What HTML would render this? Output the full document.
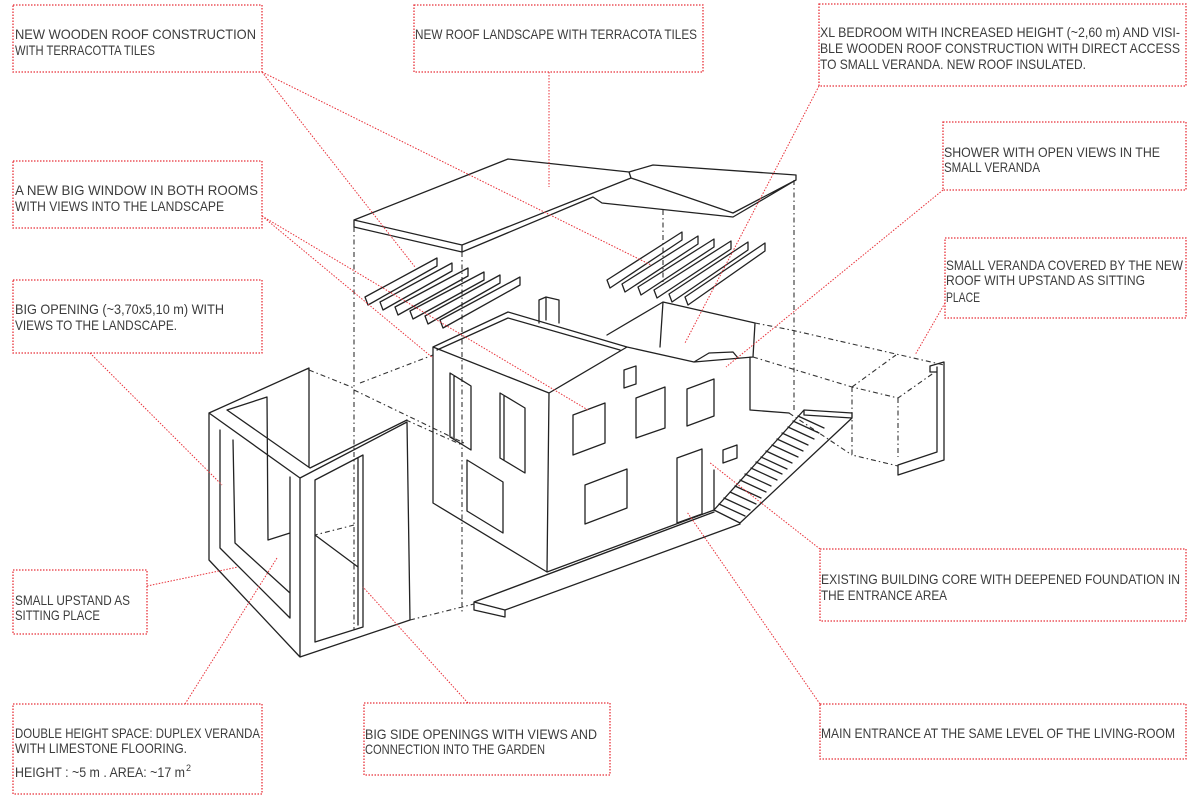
<!DOCTYPE html>
<html><head><meta charset="utf-8"><style>
html,body{margin:0;padding:0;background:#fff;}
svg{display:block;}
text{font-family:"Liberation Sans Narrow","Liberation Sans",sans-serif;font-size:14px;fill:#3c3c3c;}
.b{fill:none;stroke:#e8323a;stroke-width:1.3;stroke-dasharray:1.5 1.5;}
.l{fill:none;stroke:#e8323a;stroke-width:1;stroke-dasharray:1.5 1.5;}
.s{fill:none;stroke:#222;stroke-width:1.3;stroke-linejoin:round;stroke-linecap:round;}
.d{fill:none;stroke:#333;stroke-width:1.1;stroke-dasharray:5 3 1.5 3;}
</style></head><body>
<svg width="1200" height="800" viewBox="0 0 1200 800" xmlns="http://www.w3.org/2000/svg">
<!-- boxes -->
<rect class="b" x="13" y="5" width="249" height="67"/>
<rect class="b" x="414" y="5" width="289" height="67"/>
<rect class="b" x="819" y="4" width="367" height="82"/>
<rect class="b" x="943" y="122" width="243" height="68"/>
<rect class="b" x="13" y="161" width="249" height="67"/>
<rect class="b" x="945" y="238" width="241" height="80"/>
<rect class="b" x="13" y="280" width="249" height="73"/>
<rect class="b" x="820" y="549" width="366" height="72"/>
<rect class="b" x="13" y="570" width="134" height="64"/>
<rect class="b" x="13" y="704" width="249" height="90"/>
<rect class="b" x="364" y="703" width="246" height="72"/>
<rect class="b" x="820" y="704" width="366" height="55"/>
<!-- text -->
<text x="15" y="39" textLength="241" lengthAdjust="spacingAndGlyphs">NEW WOODEN ROOF CONSTRUCTION</text>
<text x="15" y="55" textLength="140" lengthAdjust="spacingAndGlyphs">WITH TERRACOTTA TILES</text>
<text x="415" y="39" textLength="282" lengthAdjust="spacingAndGlyphs">NEW ROOF LANDSCAPE WITH TERRACOTA TILES</text>
<text x="820" y="37" textLength="360" lengthAdjust="spacingAndGlyphs">XL BEDROOM WITH INCREASED HEIGHT (~2,60 m) AND VISI-</text>
<text x="820" y="53" textLength="360" lengthAdjust="spacingAndGlyphs">BLE WOODEN ROOF CONSTRUCTION WITH DIRECT ACCESS</text>
<text x="820" y="69" textLength="266" lengthAdjust="spacingAndGlyphs">TO SMALL VERANDA. NEW ROOF INSULATED.</text>
<text x="944" y="157" textLength="216" lengthAdjust="spacingAndGlyphs">SHOWER WITH OPEN VIEWS IN THE</text>
<text x="944" y="172" textLength="96" lengthAdjust="spacingAndGlyphs">SMALL VERANDA</text>
<text x="15" y="195" textLength="243" lengthAdjust="spacingAndGlyphs">A NEW BIG WINDOW IN BOTH ROOMS</text>
<text x="15" y="211" textLength="209" lengthAdjust="spacingAndGlyphs">WITH VIEWS INTO THE LANDSCAPE</text>
<text x="946" y="270" textLength="237" lengthAdjust="spacingAndGlyphs">SMALL VERANDA COVERED BY THE NEW</text>
<text x="946" y="285" textLength="199" lengthAdjust="spacingAndGlyphs">ROOF WITH UPSTAND AS SITTING</text>
<text x="946" y="302" textLength="34" lengthAdjust="spacingAndGlyphs">PLACE</text>
<text x="15" y="314" textLength="209" lengthAdjust="spacingAndGlyphs">BIG OPENING (~3,70x5,10 m) WITH</text>
<text x="15" y="330" textLength="162" lengthAdjust="spacingAndGlyphs">VIEWS TO THE LANDSCAPE.</text>
<text x="821" y="584" textLength="359" lengthAdjust="spacingAndGlyphs">EXISTING BUILDING CORE WITH DEEPENED FOUNDATION IN</text>
<text x="821" y="600" textLength="126" lengthAdjust="spacingAndGlyphs">THE ENTRANCE AREA</text>
<text x="15" y="605" textLength="115" lengthAdjust="spacingAndGlyphs">SMALL UPSTAND AS</text>
<text x="15" y="620" textLength="85" lengthAdjust="spacingAndGlyphs">SITTING PLACE</text>
<text x="15" y="738" textLength="245" lengthAdjust="spacingAndGlyphs">DOUBLE HEIGHT SPACE: DUPLEX VERANDA</text>
<text x="15" y="753" textLength="172" lengthAdjust="spacingAndGlyphs">WITH LIMESTONE FLOORING.</text>
<text x="15" y="777" textLength="170" lengthAdjust="spacingAndGlyphs">HEIGHT : ~5 m . AREA: ~17 m</text>
<text x="186" y="771" style="font-size:9px">2</text>
<text x="365" y="739" textLength="232" lengthAdjust="spacingAndGlyphs">BIG SIDE OPENINGS WITH VIEWS AND</text>
<text x="365" y="754" textLength="180" lengthAdjust="spacingAndGlyphs">CONNECTION INTO THE GARDEN</text>
<text x="821" y="738" textLength="354" lengthAdjust="spacingAndGlyphs">MAIN ENTRANCE AT THE SAME LEVEL OF THE LIVING-ROOM</text>

<!-- dashed construction lines -->
<path class="d" d="M354,227 L354,630 M462,252 L462,612 M663,210 L663,282 M794,180 L794,413 M309,370 L354,388 M360,383 L433,355 M354,390 L464,443 M406,420 L462,445 M410,620 L474,604 M354,525 L315,535 M755,323 L791,330 L944,365 M753,357 L852,387 L898,398 L935,372 M852,387 L896,355 M852,387 L852,455 L898,466 M898,398 L898,457 M789,413 L852,455"/>

<!-- roof -->
<path class="s" d="M354,220 L508,159 L629,172 L653,165 L796,175 L796,180 L733,213 M354,220 L462,245 L631,178 L733,213 M354,220 L354,227 L462,252 L462,245 M462,252 L593,197 L602,203 L733,217 L796,180 M629,172 L631,178"/>
<!-- beams left -->
<g class="s">
<path d="M365,297 L437,258 L437,266 L368,305 Z M365,297 L368,305"/>
<path d="M380,302 L452,263 L452,271 L383,310 Z"/>
<path d="M395,307 L468,268 L468,276 L398,315 Z"/>
<path d="M410,311 L484,272 L484,280 L413,319 Z"/>
<path d="M425,316 L500,275 L500,283 L428,324 Z"/>
<path d="M440,320 L520,277 L520,285 L443,328 Z"/>
<!-- beams right -->
<path d="M607,280 L682,232 L682,240 L610,288 Z"/>
<path d="M622,284 L698,236 L698,244 L625,292 Z"/>
<path d="M638,287 L714,239 L714,247 L641,295 Z"/>
<path d="M654,290 L731,241 L731,249 L657,298 Z"/>
<path d="M669,294 L748,242 L748,250 L672,302 Z"/>
<path d="M685,297 L765,243 L765,251 L688,305 Z"/>
</g>
<!-- house -->
<path class="s" d="M433,347 L508,312 L627,347 L549,393 Z M437,350 L508,318 L620,350 M433,347 L433,503 L547,572 L714,510 M549,393 L547,572 M627,347 L694,362 L753,357 M607,335 L663,302 L755,323 L753,357 M663,302 L660,347 M750,357 L750,410 L789,413 M714,510 L714,470 M694,362 L709,353 L733,352 L738,358"/>
<path class="s" d="M539,323 L539,300 L546,297 L559,300 L559,323 M546,297 L546,320"/>
<!-- windows -->
<g class="s">
<path d="M573,415 L605,403 L605,443 L573,455 Z"/>
<path d="M636,398 L665,387 L665,428 L636,438 Z"/>
<path d="M687,389 L714,379 L714,416 L687,426 Z"/>
<path d="M624,370 L636,366 L636,384 L624,388 Z"/>
<path d="M723,450 L737,445 L737,458 L723,463 Z"/>
<path d="M677,458 L702,449 L702,514 L677,523 Z"/>
<path d="M585,485 L627,469 L627,508 L585,524 Z"/>
<path d="M450,373 L471,386 L471,450 L450,437 Z M454,376 L454,439"/>
<path d="M500,393 L525,408 L525,473 L500,458 Z M504,396 L504,460"/>
<path d="M467,460 L503,482 L503,533 L467,511 Z"/>
</g>
<!-- stairs -->
<path class="s" d="M714,510 L804,410 L852,413 L852,418 M740,523 L852,418 M714,510 L740,523 M804,410 L804,415 L852,418
M719,504 L745,516 M724,498 L750,510 M730,492 L756,504 M735,486 L761,498 M740,480 L766,492 M745,474 L771,486 M751,468 L777,480 M756,462 L782,474 M761,457 L787,469 M766,451 L792,463 M772,445 L798,457 M777,439 L803,451 M782,433 L808,445 M788,427 L814,439 M793,421 L819,433 M798,416 L824,428"/>
<!-- slab -->
<path class="s" d="M474,602 L714,512 M474,602 L474,610 L505,617 L505,610 Z M505,610 L740,524"/>
<!-- right veranda wall -->
<path class="s" d="M930,366 L944,362 L944,460 L898,475 L898,465 L937,452 L937,367 M930,366 L930,372 L937,372"/>
<!-- frame -->
<path class="s" d="M209,413 L309,368 L309,467 M227,410 L267,397 M209,413 L300,478 L407,422 L410,620 L300,657 L209,560 Z M227,410 L310,468 L407,420 M300,478 L300,657 M267,397 L268,540 M220,430 L220,548 L290,618 L290,477 M233,440 L235,543 M235,543 L290,593 M268,540 L290,533 M315,480 L363,455 L363,627 L315,642 Z M358,458 L358,625 M315,535 L358,567"/>

<!-- leader lines -->
<path class="l" d="M262,72 L415,267 M262,72 L651,265 M549,72 L549,187 M819,86 L685,343 M943,190 L726,367 M945,303 L915,355 M262,216 L433,358 M262,216 L588,410 M90,353 L222,485 M820,549 L709,462 M820,704 L687,512 M147,586 L238,567 M185,704 L277,558 M468,703 L363,587"/>
</svg>
</body></html>
